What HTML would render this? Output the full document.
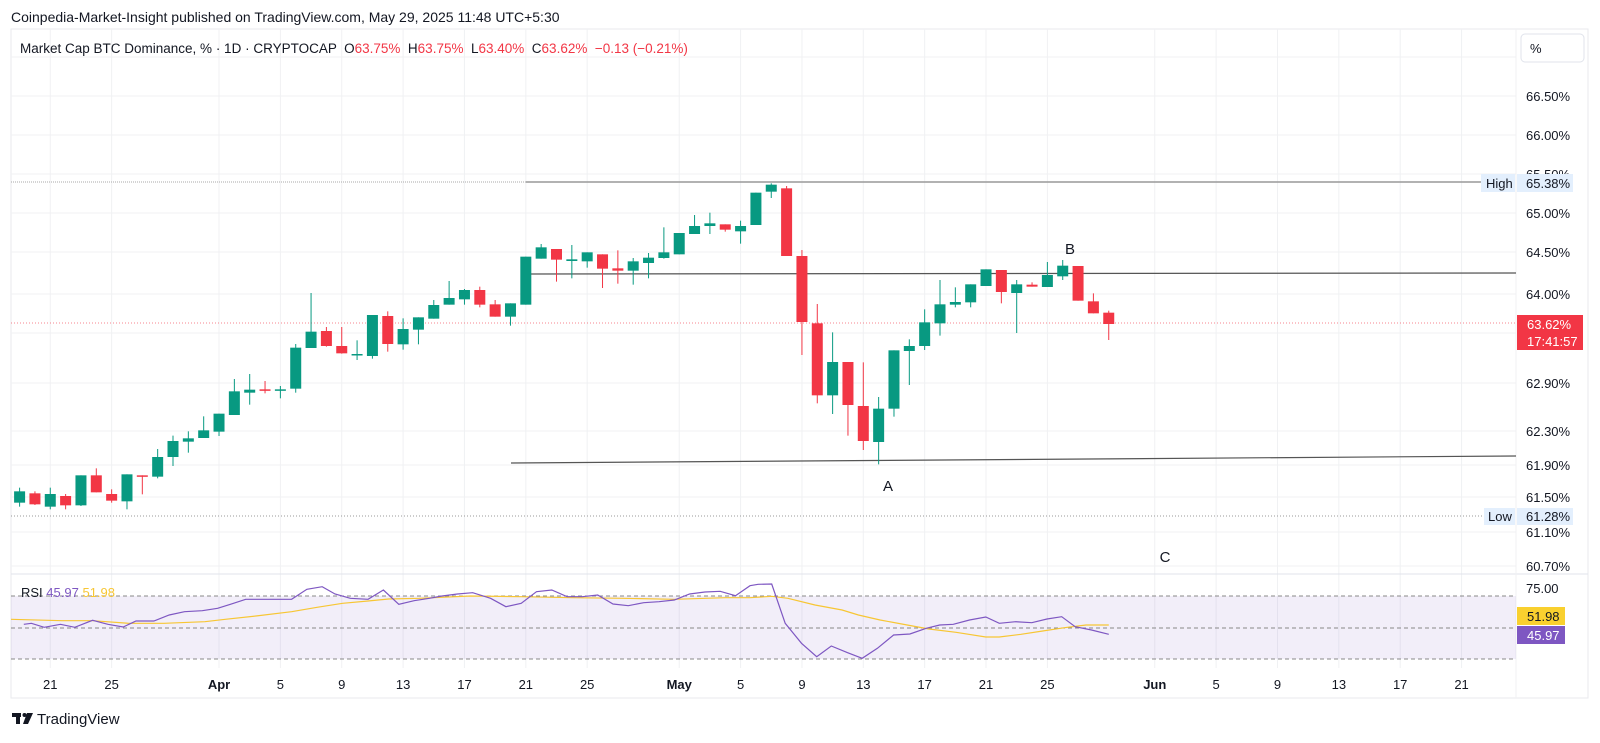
<!DOCTYPE html>
<html><head><meta charset="utf-8">
<style>
html,body{margin:0;padding:0;background:#fff;}
body{width:1600px;height:738px;overflow:hidden;font-family:"Liberation Sans",sans-serif;}
svg text{font-family:"Liberation Sans",sans-serif;}
</style></head>
<body>
<svg id="s" width="1600" height="738" xmlns="http://www.w3.org/2000/svg">
<rect x="0" y="0" width="1600" height="738" fill="#fff"/>
<text x="11" y="22" font-size="14" fill="#131722">Coinpedia-Market-Insight published on TradingView.com, May 29, 2025 11:48 UTC+5:30</text>
<rect x="11" y="29" width="1577" height="669" fill="none" stroke="#e8eaee" stroke-width="1"/>
<g id="grid"></g>
<g id="lines"></g>
<g id="candles"></g>
<g id="rsi"></g>
<g id="labels"></g>
</svg>
<script>
const NS="http://www.w3.org/2000/svg";
function el(parent,tag,attrs,text){const e=document.createElementNS(NS,tag);for(const k in attrs)e.setAttribute(k,attrs[k]);if(text!==undefined)e.textContent=text;document.getElementById(parent).appendChild(e);return e;}
const X=i=>19.6+15.34*i;
[57,96,135,174,213,252,294,333,383,431,465,497,532,566].forEach(y=>el('grid','line',{x1:11,x2:1516,y1:y,y2:y,stroke:'#f0f1f3'}));
const dates=[[2,'21'],[6,'25'],[13,'Apr',1],[17,'5'],[21,'9'],[25,'13'],[29,'17'],[33,'21'],[37,'25'],[43,'May',1],[47,'5'],[51,'9'],[55,'13'],[59,'17'],[63,'21'],[67,'25'],[74,'Jun',1],[78,'5'],[82,'9'],[86,'13'],[90,'17'],[94,'21']];
dates.forEach(d=>{const x=X(d[0]);el('grid','line',{x1:x,x2:x,y1:29,y2:668,stroke:'#f0f1f3'});
 const t=el('labels','text',{x:x,y:689,'font-size':13,'text-anchor':'middle',fill:'#131722'},d[1]);if(d[2])t.setAttribute('font-weight','bold');});
el('grid','line',{x1:11,x2:1588,y1:574,y2:574,stroke:'#e0e3eb'});
el('grid','line',{x1:1516,x2:1516,y1:29,y2:698,stroke:'#f0f1f3'});
el('grid','rect',{x:11,y:596,width:1505,height:63,fill:'#7e57c2','fill-opacity':0.1});
[596,628,659].forEach(y=>el('grid','line',{x1:11,x2:1516,y1:y,y2:y,stroke:'#888','stroke-dasharray':'4 3','stroke-width':1}));
el('lines','line',{x1:11,x2:526,y1:182,y2:182,stroke:'#aaa','stroke-dasharray':'1 1'});
el('lines','line',{x1:526,x2:1481,y1:182,y2:182,stroke:'#999','stroke-width':1.5});
el('lines','line',{x1:11,x2:1484,y1:516,y2:516,stroke:'#999','stroke-dasharray':'1 2'});
el('lines','line',{x1:11,x2:1516,y1:323,y2:323,stroke:'#f23645','stroke-dasharray':'1 2','stroke-opacity':0.6});
el('lines','line',{x1:530,x2:1516,y1:274,y2:273,stroke:'#555','stroke-width':1.2});
el('lines','line',{x1:511,x2:1516,y1:463,y2:456,stroke:'#555','stroke-width':1.2});
const c1=[[998,964,953,1010],[970,1003,964,1005],[1010,972,953,1018],[978,1006,972,1018],[1006,916,916,1008],[916,967,895,967],[972,992,958,998],[994,913,913,1018],[916,918,916,973],[920,861,837,925],[861,813,797,888],[815,805,784,848],[804,781,739,804],[785,731,731,798],[735,664,627,735],[668,659,612,704],[658,661,633,670],[661,658,648,685],[656,533,522,668],[534,485,369,534],[483,528,471,530],[528,550,471,551],[555,552,511,570],[558,435,435,566],[438,522,424,545],[523,477,445,539],[479,442,442,523],[446,405,390,446],[404,384,333,404],[388,360,357,404],[360,404,350,412],[403,440,390,440],[440,400,400,467]];
const c2=[[404,260,260,404],[266,232,222,266],[237,269,237,335],[273,268,225,325],[274,247,247,293],[253,296,253,354],[295,302,241,341],[302,274,264,344],[279,263,249,325],[264,247,172,266],[253,189,189,253],[192,168,135,192],[168,160,128,192],[163,179,163,185],[184,168,152,221],[165,68,68,165],[65,44,40,84],[55,258,48,258],[258,456,240,555],[460,676,402,700],[676,576,487,732],[576,705,576,797],[708,813,577,840],[816,716,681,883],[716,541,541,740],[543,528,508,645],[528,457,418,540],[460,403,330,497],[404,396,352,412],[397,343,343,412],[348,298,298,348],[300,366,300,400],[369,343,330,489],[344,350,337,350],[351,315,276,351],[319,287,270,330],[288,392,288,392],[394,430,370,430],[428,462,422,510]];
const all=c1.concat(c2);
all.forEach((c,i)=>{const x=X(i);const [o,cl,h,l]=c.map(v=>170+v/3);
 const colr=cl>o?'#f23645':'#089981';
 el('candles','line',{x1:x,x2:x,y1:Math.min(h,o,cl),y2:Math.max(l,o,cl),stroke:colr,'stroke-width':1});
 const top=Math.min(o,cl),ht=Math.max(1.5,Math.abs(o-cl));
 el('candles','rect',{x:x-5.5,y:top,width:11,height:ht,fill:colr});});
const z3p=[[25,208],[40,205],[65,217],[97,208],[125,217],[160,196],[190,208],[220,216],[245,198],[280,198],[310,180],[340,170],[375,167],[405,160],[430,148],[460,133],[500,133],[550,133],[580,103],[610,95],[635,117],[665,130],[700,133],[730,105],[760,148],[790,137],[820,130],[845,123],[875,117],[905,113],[940,130],[970,155],[1000,145],[1030,110],[1060,105],[1090,125],[1120,125],[1150,120],[1180,147],[1210,152],[1240,143],[1270,140],[1300,135],[1330,117],[1360,111],[1390,109],[1420,122]];
const z4p=[[0,92],[15,88],[40,87],[65,205],[95,265],[123,305],[150,273],[180,293],[207,310],[235,280],[265,240],[295,237],[325,220],[350,210],[375,208],[405,195],[435,186],[460,205],[490,200],[520,203],[548,192],[575,185],[600,215],[630,225],[662,238]];
const z3y=[[0,193],[100,197],[160,197],[230,205],[300,205],[380,200],[420,193],[480,183],[550,170],[600,157],[650,145],[700,138],[740,132],[800,130],[900,123],[1000,125],[1100,128],[1200,130],[1300,133],[1400,128]];
const z4y=[[0,128],[40,124],[70,130],[120,150],[170,165],[200,180],[240,195],[290,210],[330,222],[380,232],[435,246],[460,246],[500,238],[540,228],[580,218],[620,210],[662,210]];
const m3=p=>[(11+p[0]/1.96).toFixed(1),(555+p[1]/3).toFixed(1)];
const m4=p=>[(750+p[0]/1.845).toFixed(1),(555+p[1]/3).toFixed(1)];
const yp=z3y.map(m3).concat(z4y.map(m4)).map(p=>p.join(',')).join(' ');
const pp=z3p.map(m3).concat(z4p.map(m4)).map(p=>p.join(',')).join(' ');
el('rsi','polyline',{points:yp,fill:'none',stroke:'#f7c634','stroke-width':1.2});
el('rsi','polyline',{points:pp,fill:'none',stroke:'#7e57c2','stroke-width':1.2});
const rt=el('labels','text',{x:21,y:597,'font-size':13,fill:'#131722'});
rt.innerHTML='RSI <tspan fill="#7e57c2">45.97</tspan> <tspan fill="#f7c634">51.98</tspan>';
const tt=el('labels','text',{x:20,y:53,'font-size':13.5,fill:'#131722'});
tt.innerHTML='Market Cap BTC Dominance, % · 1D · CRYPTOCAP  O<tspan fill="#f23645">63.75%</tspan>  H<tspan fill="#f23645">63.75%</tspan>  L<tspan fill="#f23645">63.40%</tspan>  C<tspan fill="#f23645">63.62%</tspan>  <tspan fill="#f23645">−0.13 (−0.21%)</tspan>';
tt.setAttribute('xml:space','preserve');tt.style.whiteSpace='pre';
[[96,'66.50%'],[135,'66.00%'],[174,'65.50%'],[213,'65.00%'],[252,'64.50%'],[294,'64.00%'],[383,'62.90%'],[431,'62.30%'],[465,'61.90%'],[497,'61.50%'],[532,'61.10%'],[566,'60.70%']].forEach(a=>el('labels','text',{x:1526,y:a[0]+5,'font-size':13,fill:'#131722'},a[1]));
el('labels','text',{x:1526,y:593,'font-size':13,fill:'#131722'},'75.00');
el('labels','rect',{x:1521,y:34,width:63,height:28,rx:4,fill:'#fff',stroke:'#e0e3eb'});
el('labels','text',{x:1530,y:53,'font-size':13,fill:'#131722'},'%');
el('labels','rect',{x:1481,y:174,width:34,height:18,fill:'#e3effd'});
el('labels','text',{x:1486,y:188,'font-size':13,fill:'#131722'},'High');
el('labels','rect',{x:1517,y:174,width:56,height:18,fill:'#e3effd'});
el('labels','text',{x:1526,y:188,'font-size':13,fill:'#131722'},'65.38%');
el('labels','rect',{x:1484,y:508,width:31,height:17,fill:'#e3effd'});
el('labels','text',{x:1488,y:521,'font-size':13,fill:'#131722'},'Low');
el('labels','rect',{x:1517,y:508,width:56,height:17,fill:'#e3effd'});
el('labels','text',{x:1526,y:521,'font-size':13,fill:'#131722'},'61.28%');
el('labels','rect',{x:1517,y:315,width:66,height:35,fill:'#f23645'});
el('labels','text',{x:1527,y:329,'font-size':13,fill:'#fff'},'63.62%');
el('labels','text',{x:1527,y:346,'font-size':13,fill:'#fff'},'17:41:57');
el('labels','rect',{x:1517,y:607,width:48,height:18,fill:'#f9d02f'});
el('labels','text',{x:1527,y:621,'font-size':13,fill:'#131722'},'51.98');
el('labels','rect',{x:1517,y:626,width:48,height:18,fill:'#7e57c2'});
el('labels','text',{x:1527,y:640,'font-size':13,fill:'#fff'},'45.97');
el('labels','text',{x:1070,y:254,'font-size':15,fill:'#131722','text-anchor':'middle'},'B');
el('labels','text',{x:888,y:491,'font-size':15,fill:'#131722','text-anchor':'middle'},'A');
el('labels','text',{x:1165,y:562,'font-size':15,fill:'#131722','text-anchor':'middle'},'C');
el('labels','rect',{x:12,y:713,width:9,height:4,fill:'#131722'});
el('labels','rect',{x:16,y:713,width:4,height:11,fill:'#131722'});
el('labels','circle',{cx:24.5,cy:715,r:2,fill:'#131722'});
el('labels','polygon',{points:'27,713 33,713 28,724 23,724',fill:'#131722'});
el('labels','text',{x:37,y:724,'font-size':15,fill:'#131722'},'TradingView');
</script>
</body></html>
